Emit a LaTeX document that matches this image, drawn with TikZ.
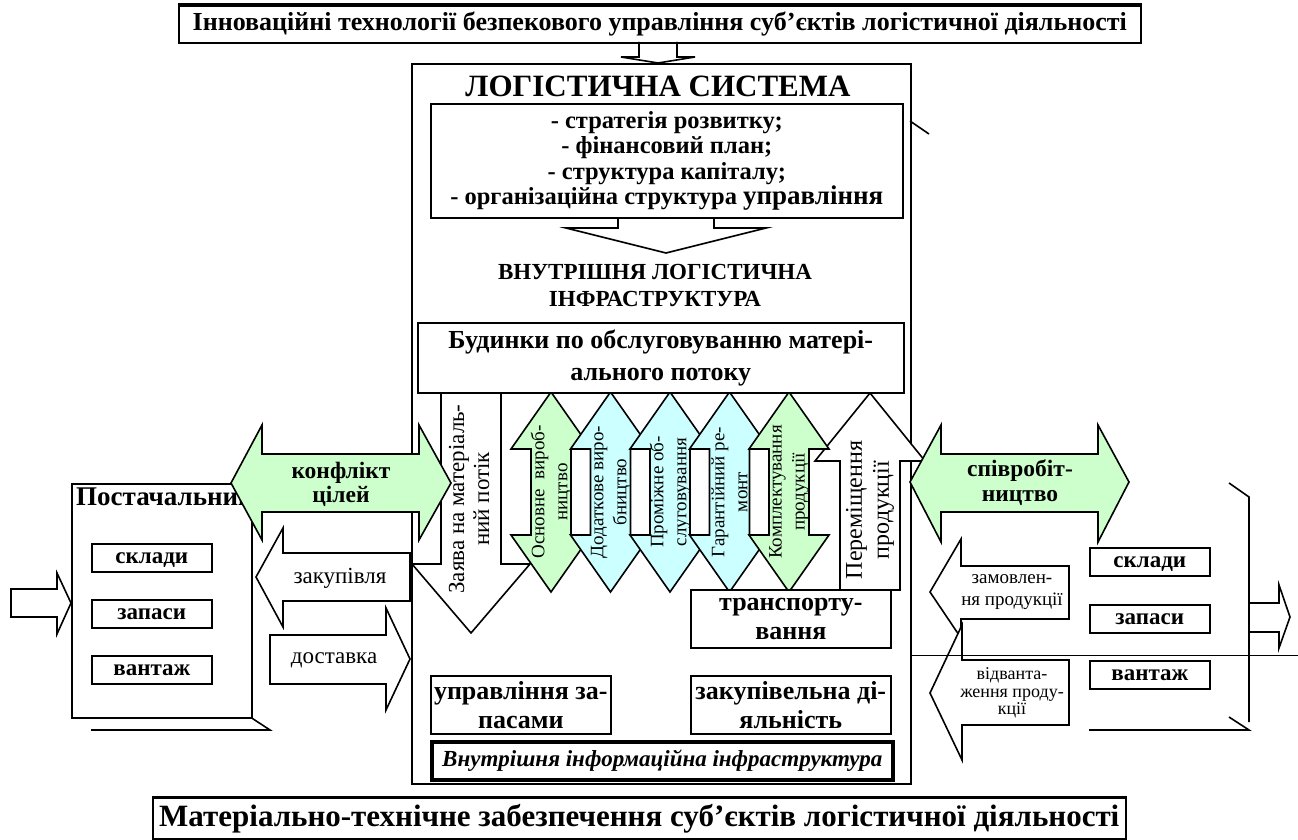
\documentclass[tikz,border=0pt]{standalone}
\usepackage{fontspec}
\setmainfont{Liberation Serif}
\usetikzlibrary{positioning}
\newcommand{\setfs}[2]{\fontsize{#1}{#2}\selectfont}
\definecolor{lgreen}{HTML}{CCFFCC}
\definecolor{lblue}{HTML}{CCFFFF}
\tikzset{
    box/.style={
           rectangle,
           draw=black, line width=1.6pt,
           fill=white,
           inner sep=0pt,
           align=center,
           anchor=north west,
           font=\bfseries\setfs{23}{26},
           },
    wordbox/.style={box, minimum width=120pt, minimum height=28pt, text height=12pt, text depth=0pt},
    blockarrow/.style={draw=black, line width=1.6pt, fill=white, line join=miter},
    greenarrow/.style={blockarrow, fill=lgreen},
    label/.style={align=center, inner sep=0pt},
}

\begin{document}
\begin{tikzpicture}[x=1pt,y=-1pt]
\useasboundingbox (0,0) rectangle (1298,840);

 % logistic system
 \node[box, minimum width=499pt, minimum height=720pt] (sys) at (411,63) {};
 \node[label, font=\bfseries\setfs{31}{36}] (systitle) at (658,86) {ЛОГІСТИЧНА СИСТЕМА};
 \draw[line width=1.6pt] (910,121) -- (929,134);

 % heading
 \node[box, minimum width=962pt, minimum height=37pt, font=\bfseries\setfs{26}{30}] (innov) at (178,5)
 {Інноваційні технології безпекового управління суб’єктів логістичної діяльності};
 \draw[line width=3pt] (innov.north west) -- (innov.north east);
 \draw[line width=1.6pt] (639,42) -- (639,57) -- (621,57) -- (658,63) -- (695,57) -- (677,57) -- (677,42);

 \node[box, minimum width=472pt, minimum height=114pt, font=\bfseries\setfs{24.5}{25.5}] (strat) at (430,103)
 {- стратегія розвитку;\\
  - фінансовий план;\\
  - структура капіталу;\\
  - організаційна структура {\setfs{27}{25.5}управління}};
 \draw[line width=1.6pt] (618,217) -- (618,228) -- (566,228) -- (666,253) -- (766,228) -- (714,228) -- (714,217);

 \node[label, font=\bfseries\setfs{23}{27}] (infra) at (655,285) {ВНУТРІШНЯ ЛОГІСТИЧНА\\ІНФРАСТРУКТУРА};

 % material flow
 \draw[blockarrow] (441,392) -- (441,564) -- (412,564) -- (471,633) -- (530,564) -- (501,564) -- (501,392);
 \node[label, rotate=90, font=\setfs{23}{25}] (request) at (469,499) {Заява на матеріаль-\\ний потік};

 \draw[blockarrow] (840,590) -- (840,461) -- (815,461) -- (870,393) -- (925,461) -- (900,461) -- (900,590) -- cycle;
 \node[label, rotate=90, font=\setfs{24}{27}] (move) at (870,510) {Переміщення\\продукції};

 \foreach \cx/\col/\txt [count=\i] in {
     551/lgreen/{Основне\ \ вироб-\\ництво},
     610.5/lblue/{Додаткове виро-\\бництво},
     670/lblue/{Проміжне об-\\слуговування},
     729.5/lblue/{Гарантійний ре-\\монт},
     789/lgreen/{Комплектування\\продукції}} {
   \draw[blockarrow, fill=\col] (\cx,392) -- ++(40,57) -- ++(-20,0) -- ++(0,86) -- ++(20,0)
     -- ++(-40,57) -- ++(-40,-57) -- ++(20,0) -- ++(0,-86) -- ++(-20,0) -- cycle;
   \node[label, rotate=90, font=\setfs{19}{23}] (func\i) at (\cx,492) {\txt};
 }

 \node[box, minimum width=486pt, minimum height=70pt, font=\bfseries\setfs{26}{32}] (build) at (417,322)
 {Будинки по обслуговуванню матері-\\ального потоку};

 \node[box, minimum width=200pt, minimum height=58pt, font=\bfseries\setfs{26}{29}] (transp) at (690,589) {транспорту-\\вання};
 \node[box, minimum width=180pt, minimum height=58pt, font=\bfseries\setfs{26}{29}] (stock) at (430,675) {управління за-\\пасами};
 \node[box, minimum width=200pt, minimum height=58pt, font=\bfseries\setfs{26}{29}] (purch) at (690,675) {закупівельна ді-\\яльність};
 \node[box, line width=3.5pt, minimum width=461pt, minimum height=38pt, font=\bfseries\itshape\setfs{23}{26}] (info) at (430,740)
 {Внутрішня інформаційна інфраструктура};

 % supplier
 \node[box, minimum width=180pt, minimum height=234pt] (supplier) at (71,483) {};
 \draw[line width=1.6pt] (supplier.south east) -- (270,730) -- (91,730);
 \node[label, anchor=west, font=\bfseries\setfs{27}{30}] (suptitle) at (76,497) {Постачальник};
 \node[wordbox] (sstore) at (91,543) {склади};
 \node[wordbox] (sstock) at (91,599) {запаси};
 \node[wordbox] (scargo) at (91,655) {вантаж};
 \draw[blockarrow] (11,589) -- (57,589) -- (57,573) -- (71,603) -- (57,634) -- (57,617) -- (11,617) -- cycle;

 \draw[blockarrow] (256,577) -- (283,528) -- (283,553) -- (410,553) -- (410,601) -- (283,601) -- (283,627) -- cycle;
 \node[label, font=\setfs{23}{26}] (buy) at (340,578) {закупівля};
 \draw[blockarrow] (270,635) -- (386,635) -- (386,608) -- (410,659) -- (386,710) -- (386,684) -- (270,684) -- cycle;
 \node[label, font=\setfs{23}{26}] (deliv) at (334,660) {доставка};

 \draw[greenarrow] (231,483) -- (262,425) -- (262,454) -- (419,454) -- (419,425) -- (451,483)
   -- (419,540) -- (419,512) -- (262,512) -- (262,540) -- cycle;
 \node[label, font=\bfseries\setfs{23.5}{24}] (conflict) at (341,484) {конфлікт\\цілей};

 % customer side
 \draw[line width=1.6pt] (1229,483) -- (1249,497) -- (1249,722);
 \draw[line width=1.6pt] (1229,717) -- (1249,730) -- (1089,730);
 \draw[blockarrow] (1249,603) -- (1279,603) -- (1279,585) -- (1290,617) -- (1279,648) -- (1279,632) -- (1249,632) -- cycle;
 \node[wordbox] (cstore) at (1089,547) {склади};
 \node[wordbox] (cstock) at (1089,604) {запаси};
 \node[wordbox] (ccargo) at (1089,660) {вантаж};

 \draw[blockarrow] (930,592) -- (961,539) -- (961,566) -- (1069,566) -- (1069,619) -- (961,619) -- (961,638) -- cycle;
 \node[label, font=\setfs{19}{22}] (order) at (1012,592) {замовлен-\\ня продукції};
 \draw[blockarrow] (930,693) -- (962,625) -- (962,660) -- (1069,660) -- (1069,725) -- (962,725) -- (962,760) -- cycle;
 \node[label, font=\setfs{18}{17.5}] (ship) at (1012,693) {відванта-\\ження проду-\\кції};
 \draw[line width=1pt] (910,655) -- (1298,655);

 \draw[greenarrow] (910,482) -- (941,425) -- (941,454) -- (1098,454) -- (1098,425) -- (1129,482)
   -- (1098,542) -- (1098,512) -- (941,512) -- (941,542) -- cycle;
 \node[label, font=\bfseries\setfs{23.5}{25}] (coop) at (1020,483) {співробіт-\\ництво};

 % bottom heading
 \node[box, minimum width=973pt, minimum height=41pt, font=\bfseries\setfs{31}{34}] (supply) at (152,797)
 {Матеріально-технічне забезпечення суб’єктів логістичної діяльності};
 \draw[line width=3pt] (supply.north west) -- (supply.north east);

\end{tikzpicture}
\end{document}
